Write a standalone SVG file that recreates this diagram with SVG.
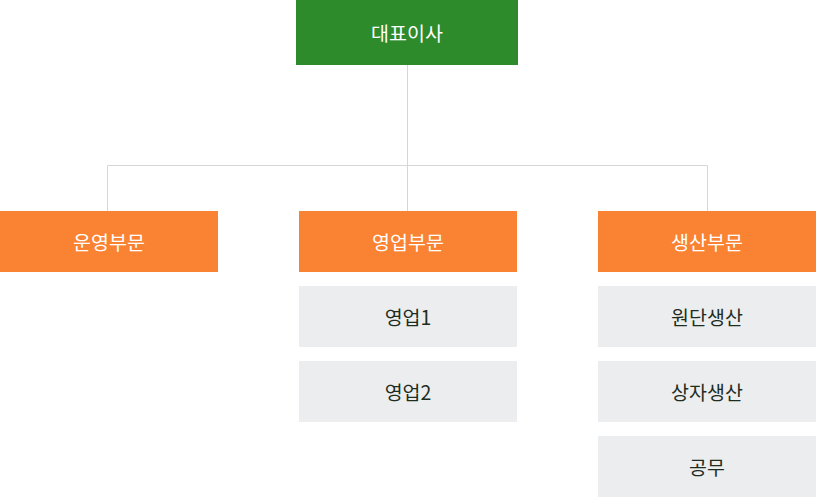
<svg xmlns="http://www.w3.org/2000/svg" width="816" height="497" viewBox="0 0 816 497">
<style>
.t{font-family:"Noto Sans CJK KR","Noto Sans",sans-serif;font-size:19.5px;text-anchor:middle;dominant-baseline:central}
.w{fill:#ffffff}
.d{fill:#1f2d1f}
.g{fill:#2e8b2b}
.o{fill:#fa8333}
.s{fill:#ecedef}
.c{stroke:#d6d6d6;stroke-width:1;fill:none}
</style>
<g id="connectors">
<path class="c" d="M407.5 65V165.5M107.5 165.5H707.5M107.5 165.5V211M407.5 165.5V211M707.5 165.5V211"/>
</g>
<g id="ceo"><rect class="g" x="296" y="0" width="222" height="65"/><text class="t w" x="407" y="32">대표이사</text></g>
<g id="ops"><rect class="o" x="0" y="211" width="218" height="61"/><text class="t w" x="109" y="241">운영부문</text></g>
<g id="sales"><rect class="o" x="299" y="211" width="218" height="61"/><text class="t w" x="408" y="241">영업부문</text></g>
<g id="prod"><rect class="o" x="598" y="211" width="218" height="61"/><text class="t w" x="707" y="241">생산부문</text></g>
<g id="sales1"><rect class="s" x="299" y="286" width="218" height="61"/><text class="t d" x="408" y="316">영업1</text></g>
<g id="sales2"><rect class="s" x="299" y="361" width="218" height="61"/><text class="t d" x="408" y="391">영업2</text></g>
<g id="prod1"><rect class="s" x="598" y="286" width="218" height="61"/><text class="t d" x="707" y="316">원단생산</text></g>
<g id="prod2"><rect class="s" x="598" y="361" width="218" height="61"/><text class="t d" x="707" y="391">상자생산</text></g>
<g id="prod3"><rect class="s" x="598" y="436" width="218" height="61"/><text class="t d" x="707" y="466">공무</text></g>
</svg>
